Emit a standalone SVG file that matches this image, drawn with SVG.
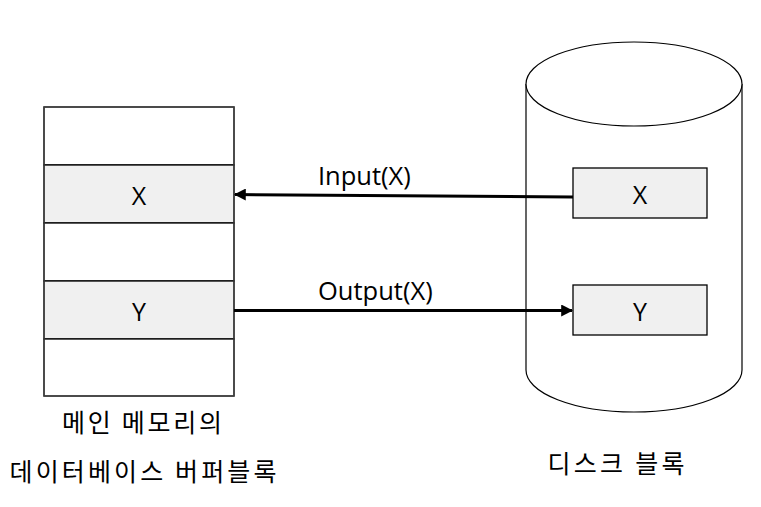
<svg xmlns="http://www.w3.org/2000/svg" width="761" height="507" viewBox="0 0 761 507">
<style>
.cell{fill:#ffffff;stroke:#000;stroke-width:1.3}
.hl{fill:#f0f0f0;stroke:#000;stroke-width:1.3}
.lbl{font-family:"Open Sans","Noto Sans",sans-serif;font-size:25px;fill:#000;text-anchor:middle}
.edge{font-family:"Open Sans","Noto Sans",sans-serif;font-size:25.5px;fill:#000}
.ko{font-family:"Noto Sans CJK KR","Noto Sans",sans-serif;font-size:25px;fill:#000;text-anchor:middle}
.conn{stroke:#000;stroke-width:3;fill:none}
.cyl{fill:#fff;stroke:#000;stroke-width:1.2}
</style>
<defs>
<marker id="ah" viewBox="0 0 10 10" refX="9" refY="5" markerWidth="4" markerHeight="4" orient="auto" markerUnits="strokeWidth">
<path d="M0,0 L10,5 L0,10 Z" fill="#000"/>
</marker>
</defs>
<g id="buffer">
<rect class="cell" x="44" y="107" width="190" height="58"/>
<rect class="hl" x="44" y="165" width="190" height="58"/>
<rect class="cell" x="44" y="223" width="190" height="58"/>
<rect class="hl" x="44" y="281" width="190" height="58"/>
<rect class="cell" x="44" y="339" width="190" height="57"/>
<rect x="44" y="107" width="190" height="289" fill="none" stroke="#444" stroke-width="1.3"/>
<text class="lbl" x="139" y="205">X</text>
<text class="lbl" x="139" y="321">Y</text>
<text class="ko" x="142" y="432" textLength="160" lengthAdjust="spacing">메인 메모리의</text>
<text class="ko" x="143" y="481" textLength="267" lengthAdjust="spacing">데이터베이스 버퍼블록</text>
</g>
<g id="disk">
<path class="cyl" d="M526,84 A108,42 0 0 1 742,84 L742,370 A108,42 0 0 1 526,370 Z"/>
<path class="cyl" fill="none" d="M526,84 A108,42 0 0 0 742,84"/>
<rect class="hl" x="573" y="168" width="134" height="50"/>
<text class="lbl" x="640" y="204">X</text>
<rect class="hl" x="573" y="285" width="134" height="50"/>
<text class="lbl" x="640" y="321">Y</text>
<text class="ko" x="616" y="473" textLength="137" lengthAdjust="spacing">디스크 블록</text>
</g>
<g id="connectors">
<line class="conn" x1="573" y1="197" x2="235" y2="194.5" marker-end="url(#ah)"/>
<line class="conn" x1="234" y1="310.5" x2="572" y2="310.5" marker-end="url(#ah)"/>
<text class="edge" x="318" y="185">Input(X)</text>
<text class="edge" x="318" y="300">Output(X)</text>
</g>
</svg>
